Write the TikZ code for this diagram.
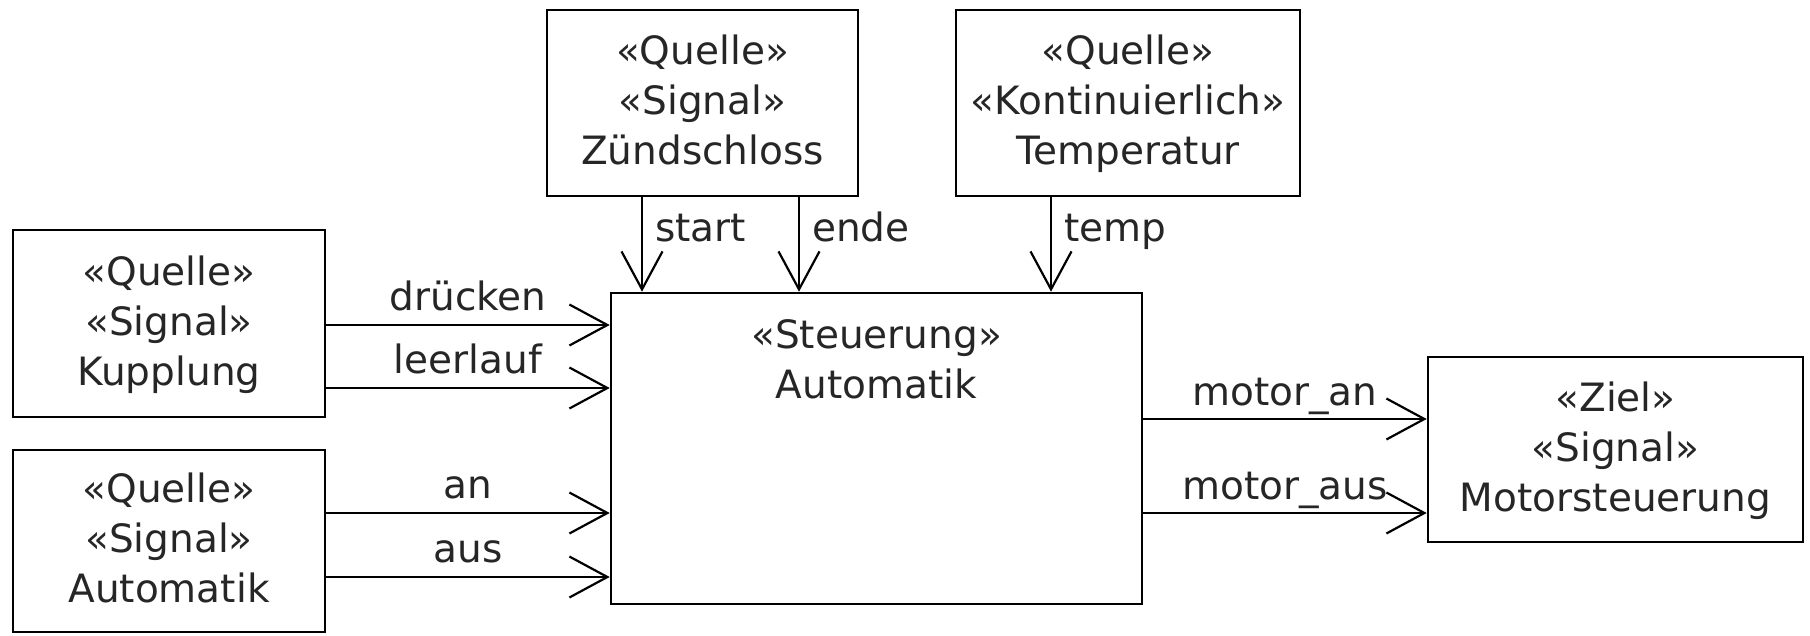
\documentclass[tikz,border=0pt]{standalone}
\usepackage{fontspec}
\setmainfont{DejaVu Sans}
\usetikzlibrary{arrows.meta}
\newcommand\ms{\rule[-9.5pt]{0pt}{42pt}}
\begin{document}
\begin{tikzpicture}[x=1pt,y=-1pt,
  box/.style={draw=black, line width=2.6pt, inner sep=0pt, align=center,
    font=\fontsize{39}{50}\selectfont, text=black!85},
  txt/.style={inner sep=0pt, align=center, font=\fontsize{39}{50}\selectfont, text=black!85},
  arr/.style={line width=2.2pt, -{Straight Barb[length=38pt, width=41pt, line width=2.2pt]}},
  hl/.style={midway, anchor=base, inner sep=0pt, font=\fontsize{39}{50}\selectfont, text=black!85},
  vl/.style={midway, anchor=base west, inner sep=0pt, xshift=12pt, yshift=3.5pt, font=\fontsize{39}{50}\selectfont, text=black!85}]
\useasboundingbox (0,0) rectangle (1810,635);
\fill[white] (0,0) rectangle (1810,635);
% boxes
\node[box, minimum width=312pt, minimum height=187pt] (kup) at (169,323.5) {\ms«Quelle»\\«Signal»\\\ms Kupplung};
\node[box, minimum width=312pt, minimum height=182pt] (aut) at (169,541) {\ms«Quelle»\\«Signal»\\\ms Automatik};
\node[box, minimum width=311pt, minimum height=186pt] (zs) at (702.5,103) {\ms«Quelle»\\«Signal»\\\ms Zündschloss};
\node[box, minimum width=344pt, minimum height=186pt] (tmp) at (1128,103) {\ms«Quelle»\\«Kontinuierlich»\\\ms Temperatur};
\node[box, minimum width=531pt, minimum height=311pt] (ctrl) at (876.5,448.5) {};
\node[txt, anchor=north] (ctrlt) at (876.5,319.6) {«Steuerung»\\Automatik};
\node[box, minimum width=375pt, minimum height=185pt] (mot) at (1615.5,449.5) {\ms«Ziel»\\«Signal»\\\ms Motorsteuerung};
% left inputs
\draw[arr] (kup.east |- 0,325) -- node[hl, yshift=15pt]{drücken} (ctrl.west |- 0,325);
\draw[arr] (kup.east |- 0,388) -- node[hl, yshift=15pt]{leerlauf} (ctrl.west |- 0,388);
\draw[arr] (aut.east |- 0,513) -- node[hl, yshift=15pt]{an} (ctrl.west |- 0,513);
\draw[arr] (aut.east |- 0,577) -- node[hl, yshift=15pt]{aus} (ctrl.west |- 0,577);
% top inputs
\draw[arr] (zs.south -| 642,0) -- node[vl]{start} (ctrl.north -| 642,0);
\draw[arr] (zs.south -| 799,0) -- node[vl]{ende} (ctrl.north -| 799,0);
\draw[arr] (tmp.south -| 1051,0) -- node[vl]{temp} (ctrl.north -| 1051,0);
% outputs
\draw[arr] (ctrl.east |- 0,419) -- node[hl, yshift=14pt]{motor\_an} (mot.west |- 0,419);
\draw[arr] (ctrl.east |- 0,513) -- node[hl, yshift=14pt]{motor\_aus} (mot.west |- 0,513);
\end{tikzpicture}
\end{document}
